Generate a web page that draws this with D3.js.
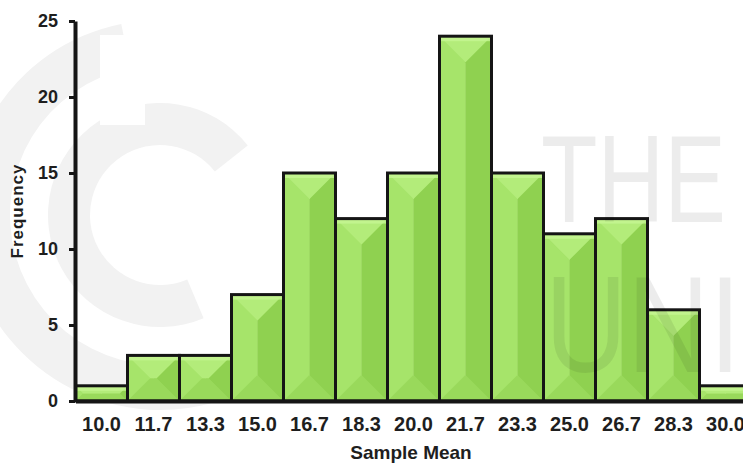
<!DOCTYPE html>
<html>
<head>
<meta charset="utf-8">
<script src="https://cdn.jsdelivr.net/npm/d3@7"></script>
<style>
  html, body { margin: 0; padding: 0; background: #ffffff; }
  svg { display: block; }
  text { font-family: "Liberation Sans", Arial, sans-serif; }
</style>
</head>
<body>
<script>
// Histogram of sample means
const categories = ["10.0", "11.7", "13.3", "15.0", "16.7", "18.3", "20.0", "21.7", "23.3", "25.0", "26.7", "28.3", "30.0"];
const frequencies = [1, 3, 3, 7, 15, 12, 15, 24, 15, 11, 12, 6, 1];
const yTicks = [0, 5, 10, 15, 20, 25];

const W = 743, H = 463;
const svg = d3.select("body").append("svg").attr("width", W).attr("height", H);

const x = d3.scaleBand().domain(categories).range([75.5, 751.5]).padding(0);
const y = d3.scaleLinear().domain([0, 25]).range([401, 21]);

// faint background logo rings
const bg = svg.append("g").attr("fill", "#f2f2f2");
const ring = d3.arc();
bg.append("path")
  .attr("transform", "translate(160,215)")
  .attr("d", ring({ innerRadius: 150, outerRadius: 195, startAngle: -0.2, endAngle: -Math.PI - 0.35 }));
bg.append("path")
  .attr("transform", "translate(160,215)")
  .attr("d", ring({ innerRadius: 70, outerRadius: 112, startAngle: 0.9, endAngle: -Math.PI - 0.4 }));
bg.append("rect").attr("x", 100).attr("y", 35).attr("width", 45).attr("height", 90).attr("fill", "#ffffff");

// bevelled bars
const bars = svg.append("g");
categories.forEach((c, i) => {
  const v = frequencies[i];
  const x0 = x(c), w = x.bandwidth(), x1 = x0 + w;
  const y0 = y(v), y1 = y(0), h = y1 - y0;
  const b = Math.min(w / 2, h / 2);
  const xm = x0 + w / 2;
  const g = bars.append("g");
  const poly = (pts, fill) => g.append("polygon").attr("points", pts.map(p => p.join(",")).join(" ")).attr("fill", fill);
  // left and right halves
  poly([[x0, y0], [xm, y0], [xm, y1], [x0, y1]], "#a2e165");
  poly([[xm, y0], [x1, y0], [x1, y1], [xm, y1]], "#95d657");
  // side facets
  poly([[x0, y0], [x0 + b, y0 + b], [x0 + b, y1 - b], [x0, y1]], "#a6e46a");
  poly([[x1, y0], [x1 - b, y0 + b], [x1 - b, y1 - b], [x1, y1]], "#8fd150");
  // bottom facet
  poly([[x0, y1], [x0 + b, y1 - b], [x1 - b, y1 - b], [x1, y1]], "#99d95b");
  // top facet
  poly([[x0, y0], [x1, y0], [x1 - b, y0 + b], [x0 + b, y0 + b]], "#b3ec7a");
  // highlight along the top edge
  g.append("rect").attr("x", x0).attr("y", y0).attr("width", w).attr("height", Math.min(5, h))
    .attr("fill", "#c6f693").attr("opacity", 0.8);
  g.append("rect").attr("x", x0).attr("y", y0).attr("width", w).attr("height", h)
    .attr("fill", "none").attr("stroke", "#151515").attr("stroke-width", 3);
});

// faint lettering over the plot
const wm = svg.append("g").attr("fill", "#000").attr("fill-opacity", 0.075).style("pointer-events", "none");
wm.append("text").attr("x", 541).attr("y", 222).attr("font-size", 124)
  .attr("textLength", 185).attr("lengthAdjust", "spacingAndGlyphs").text("THE");
wm.append("text").attr("x", 545).attr("y", 372).attr("font-size", 138)
  .attr("textLength", 196).attr("lengthAdjust", "spacingAndGlyphs").text("UNI");

// axes
const axisFont = g => g.selectAll("text")
  .attr("font-family", "'Liberation Sans', Arial, sans-serif")
  .attr("font-weight", "bold").attr("fill", "#1e1e1e");

const yAxis = svg.append("g").attr("transform", "translate(75,0)")
  .call(d3.axisLeft(y).tickValues(yTicks).tickSize(6).tickSizeOuter(0).tickPadding(11));
yAxis.select(".domain").attr("stroke", "#151515").attr("stroke-width", 4);
yAxis.selectAll(".tick line").attr("stroke", "#151515").attr("stroke-width", 3);
yAxis.call(axisFont).selectAll("text").attr("font-size", 18);

const xAxis = svg.append("g").attr("transform", "translate(0,401)")
  .call(d3.axisBottom(x).tickSize(0).tickSizeOuter(0).tickPadding(16));
xAxis.select(".domain").attr("stroke", "#151515").attr("stroke-width", 4);
xAxis.call(axisFont).selectAll("text").attr("font-size", 20);

// axis titles
svg.append("text").attr("x", 411).attr("y", 459).attr("text-anchor", "middle")
  .attr("font-weight", "bold").attr("font-size", 19).attr("fill", "#1e1e1e").text("Sample Mean");
svg.append("text").attr("transform", "translate(23,211) rotate(-90)").attr("text-anchor", "middle")
  .attr("font-weight", "bold").attr("font-size", 17).attr("letter-spacing", 1).attr("fill", "#1e1e1e").text("Frequency");
</script>
</body>
</html>
